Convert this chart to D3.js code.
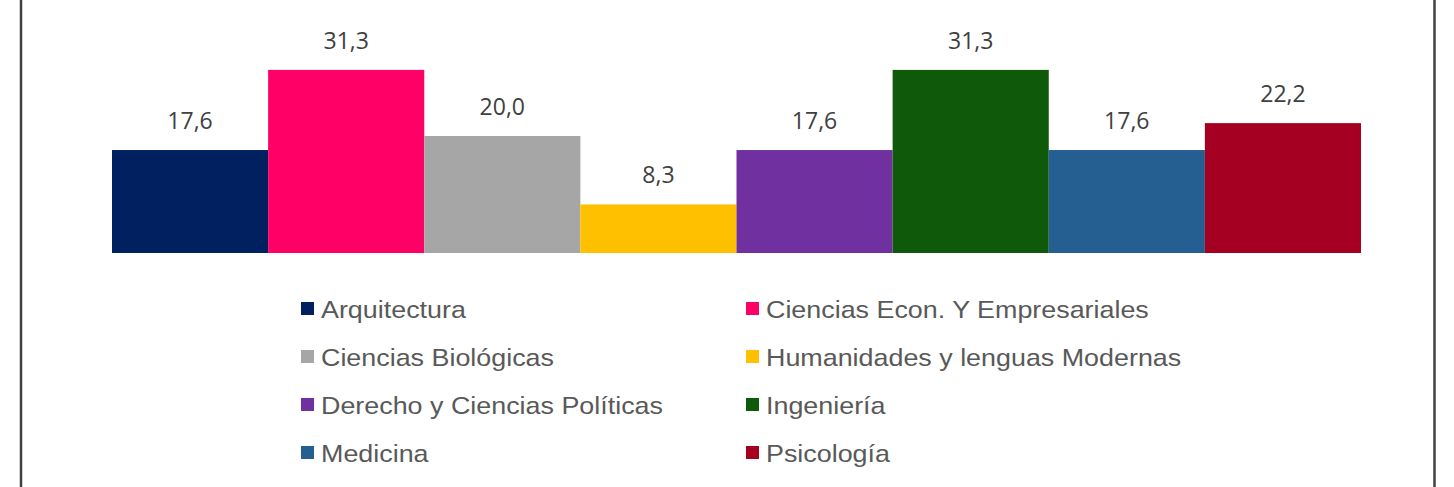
<!DOCTYPE html>
<html>
<head>
<meta charset="utf-8">
<script src="https://cdn.jsdelivr.net/npm/d3@7"></script>
<style>
  html, body { margin: 0; padding: 0; background: #fff; }
  svg { display: block; }
</style>
</head>
<body>
<svg id="chart" width="1454" height="487"></svg>
<script>
const categories = ["Arquitectura", "Ciencias Econ. Y Empresariales", "Ciencias Biológicas", "Humanidades y lenguas Modernas", "Derecho y Ciencias Políticas", "Ingeniería", "Medicina", "Psicología"];
const values = [17.6, 31.3, 20.0, 8.3, 17.6, 31.3, 17.6, 22.2];
const colors = ["#002060", "#FF0066", "#A6A6A6", "#FFC000", "#7030A0", "#0F5A0A", "#255E91", "#A50021"];
const valueLabels = ["17,6", "31,3", "20,0", "8,3", "17,6", "31,3", "17,6", "22,2"];

const svg = d3.select("#chart");

// frame (left and right edges visible)
svg.append("line").attr("x1", 21).attr("x2", 21).attr("y1", 0).attr("y2", 487)
  .attr("stroke", "#404040").attr("stroke-width", 2.5);
svg.append("line").attr("x1", 1434.5).attr("x2", 1434.5).attr("y1", 0).attr("y2", 487)
  .attr("stroke", "#404040").attr("stroke-width", 2.5);

const x = d3.scaleBand().domain(categories).range([112, 1361]).padding(0);
const y = d3.scaleLinear().domain([0, 35]).range([253, 253 - 35 * 5.85]);

svg.append("g").selectAll("rect").data(categories).join("rect")
  .attr("x", d => x(d))
  .attr("width", x.bandwidth())
  .attr("y", (d, i) => y(values[i]))
  .attr("height", (d, i) => y(0) - y(values[i]))
  .attr("fill", (d, i) => colors[i]);

svg.append("g").selectAll("text").data(categories).join("text")
  .attr("x", d => x(d) + x.bandwidth() / 2)
  .attr("y", (d, i) => y(values[i]) - 21)
  .attr("text-anchor", "middle")
  .attr("font-family", "'Open Sans', sans-serif")
  .attr("font-size", 23)
  .attr("fill", "#404040")
  .text((d, i) => valueLabels[i]);

// legend: two columns, four rows
const colX = [301, 746];
const rowY = [309, 357, 405, 453];
const lg = svg.append("g");
categories.forEach((c, i) => {
  const cx = colX[i % 2];
  const cy = rowY[Math.floor(i / 2)];
  lg.append("rect").attr("x", cx).attr("y", cy - 7).attr("width", 13).attr("height", 13)
    .attr("fill", colors[i]);
  lg.append("text")
    .attr("transform", `translate(${cx + 20},${cy + 9}) scale(1.12,1)`)
    .attr("font-family", "'Liberation Sans', Arial, sans-serif")
    .attr("font-size", 24)
    .attr("fill", "#595959")
    .text(c);
});
</script>
</body>
</html>
